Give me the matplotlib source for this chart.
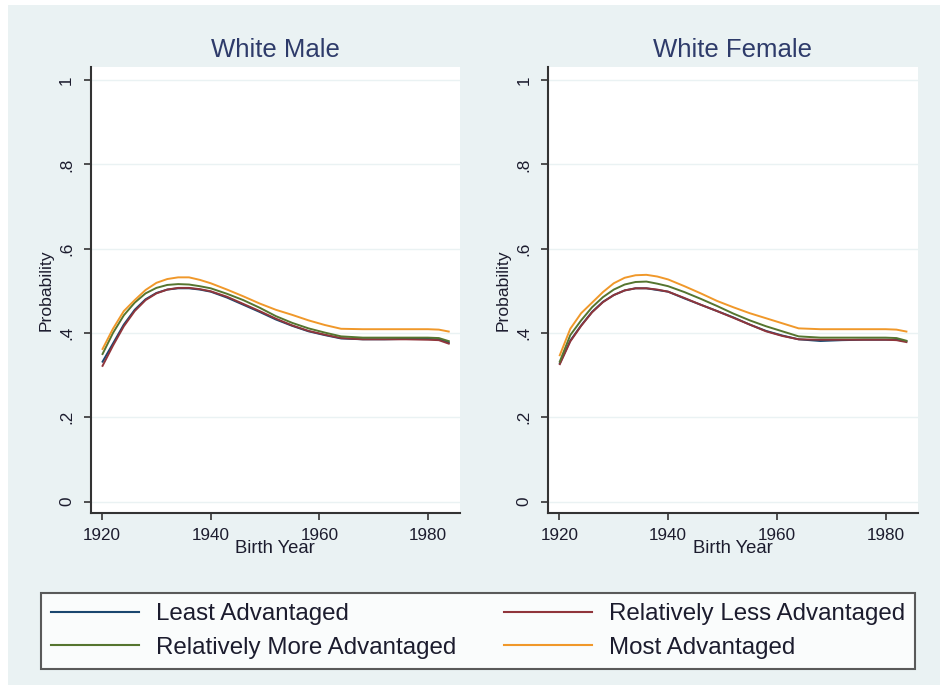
import matplotlib
matplotlib.use("Agg")
import matplotlib.pyplot as plt
from matplotlib.patches import Rectangle
from matplotlib.lines import Line2D

plt.rcParams['font.family'] = ['Liberation Sans', 'DejaVu Sans']

# ---- data ----
years = [1920, 1922, 1924, 1926, 1928, 1930, 1932, 1934, 1936, 1938, 1940, 1943,
         1946, 1949, 1952, 1955, 1958, 1961, 1964, 1968, 1972, 1976, 1980, 1982, 1984]

series_names = ["Least Advantaged", "Relatively Less Advantaged",
                "Relatively More Advantaged", "Most Advantaged"]
panel_titles = ["White Male", "White Female"]

male_least = [0.330, 0.375, 0.420, 0.455, 0.480, 0.495, 0.503, 0.506, 0.506, 0.503, 0.498, 0.484,
              0.467, 0.450, 0.432, 0.417, 0.404, 0.395, 0.387, 0.385, 0.385, 0.386, 0.386, 0.385, 0.377]
male_less = [0.320, 0.370, 0.416, 0.452, 0.478, 0.494, 0.503, 0.507, 0.507, 0.504, 0.499, 0.486,
             0.469, 0.452, 0.434, 0.418, 0.405, 0.396, 0.388, 0.385, 0.385, 0.385, 0.384, 0.383, 0.374]
male_more = [0.348, 0.400, 0.442, 0.472, 0.494, 0.507, 0.514, 0.516, 0.515, 0.511, 0.506, 0.493,
             0.478, 0.460, 0.440, 0.424, 0.411, 0.401, 0.392, 0.389, 0.389, 0.389, 0.389, 0.388, 0.380]
male_most = [0.360, 0.410, 0.452, 0.478, 0.502, 0.519, 0.528, 0.532, 0.532, 0.526, 0.518, 0.503,
             0.487, 0.470, 0.455, 0.443, 0.430, 0.419, 0.410, 0.409, 0.409, 0.409, 0.409, 0.408, 0.403]

female_least = [0.326, 0.382, 0.418, 0.450, 0.474, 0.490, 0.501, 0.506, 0.506, 0.502, 0.498, 0.482,
                0.467, 0.452, 0.437, 0.420, 0.405, 0.394, 0.385, 0.381, 0.383, 0.384, 0.384, 0.384, 0.380]
female_less = [0.324, 0.380, 0.417, 0.449, 0.473, 0.490, 0.501, 0.506, 0.506, 0.503, 0.498, 0.483,
               0.467, 0.452, 0.436, 0.420, 0.404, 0.393, 0.385, 0.384, 0.384, 0.384, 0.384, 0.383, 0.378]
female_more = [0.330, 0.395, 0.430, 0.461, 0.485, 0.503, 0.515, 0.521, 0.522, 0.517, 0.511, 0.497,
               0.481, 0.464, 0.446, 0.430, 0.416, 0.404, 0.392, 0.389, 0.389, 0.389, 0.389, 0.388, 0.381]
female_most = [0.345, 0.410, 0.447, 0.472, 0.497, 0.518, 0.531, 0.537, 0.538, 0.534, 0.527, 0.511,
               0.494, 0.476, 0.461, 0.447, 0.435, 0.423, 0.411, 0.409, 0.409, 0.409, 0.409, 0.408, 0.403]

panels = [
    [male_least, male_less, male_more, male_most],
    [female_least, female_less, female_more, female_most],
]

y_ticks = [0, 0.2, 0.4, 0.6, 0.8, 1.0]
y_ticklabels = ["0", ".2", ".4", ".6", ".8", "1"]
x_ticks = [1920, 1940, 1960, 1980]

# ---- style ----
colors = ["#1a476f", "#90353b", "#55752f", "#f0982a"]
bg = "#eaf2f3"
txt = "#1c1c2e"
title_col = "#2e3b6a"

W, H = 940, 687
fig = plt.figure(figsize=(W / 100, H / 100), dpi=100, facecolor="white")
fig.patches.append(Rectangle((8 / W, 2 / H), 1 - 8 / W, 1 - 7 / H, transform=fig.transFigure,
                             facecolor=bg, edgecolor="none", zorder=-10))

ax_boxes = [(90.7, 460.0), (548.0, 917.7)]
top_px, bot_px = 67, 513

for i, (x0, x1) in enumerate(ax_boxes):
    ax = fig.add_axes([x0 / W, 1 - bot_px / H, (x1 - x0) / W, (bot_px - top_px) / H])
    ax.set_facecolor("white")
    for s, c in zip(panels[i], colors):
        ax.plot(years, s, color=c, lw=1.4, solid_capstyle="butt")
    ax.set_xlim(1917.9, 1985.9)
    ax.set_ylim(-0.027, 1.031)
    ax.set_yticks(y_ticks)
    ax.set_yticklabels(y_ticklabels, rotation=90, va="center")
    ax.set_xticks(x_ticks)
    ax.grid(axis="y", color=bg, lw=1.0)
    ax.set_axisbelow(True)
    for sp in ["top", "right"]:
        ax.spines[sp].set_visible(False)
    for sp in ["left", "bottom"]:
        ax.spines[sp].set_color("#333333")
        ax.spines[sp].set_linewidth(1.5)
    ax.tick_params(axis="both", direction="out", length=5, width=1.2, color="#333333",
                   labelsize=12.3, labelcolor=txt)
    ax.tick_params(axis="y", pad=7)
    ax.tick_params(axis="x", pad=6)
    ax.set_title(panel_titles[i], fontsize=18.5, color=title_col, pad=7)
    ax.set_xlabel("Birth Year", fontsize=13.3, color=txt, labelpad=-2.5)
    ax.set_ylabel("Probability", fontsize=12.6, color=txt, labelpad=4)

handles = [Line2D([], [], color=c, lw=1.5) for c in colors]
order = [0, 2, 1, 3]
leg_x0, leg_x1, leg_yc = 40.7, 915.0, 631.0
leg = fig.legend([handles[k] for k in order], [series_names[k] for k in order],
                 ncol=2, loc="center", mode="expand",
                 bbox_to_anchor=(leg_x0 / W, 1 - (leg_yc + 5) / H, (leg_x1 - leg_x0) / W, 10 / H),
                 fontsize=17.35, handlelength=3.65, handletextpad=0.7, columnspacing=1.9,
                 labelspacing=0.48, frameon=True, fancybox=False, borderpad=0.42,
                 borderaxespad=0)
fr = leg.get_frame()
fr.set_edgecolor("#333333")
fr.set_linewidth(1.5)
fr.set_facecolor("white")
for t in leg.get_texts():
    t.set_color(txt)

fig.savefig("out.png", dpi=100, facecolor="white")
